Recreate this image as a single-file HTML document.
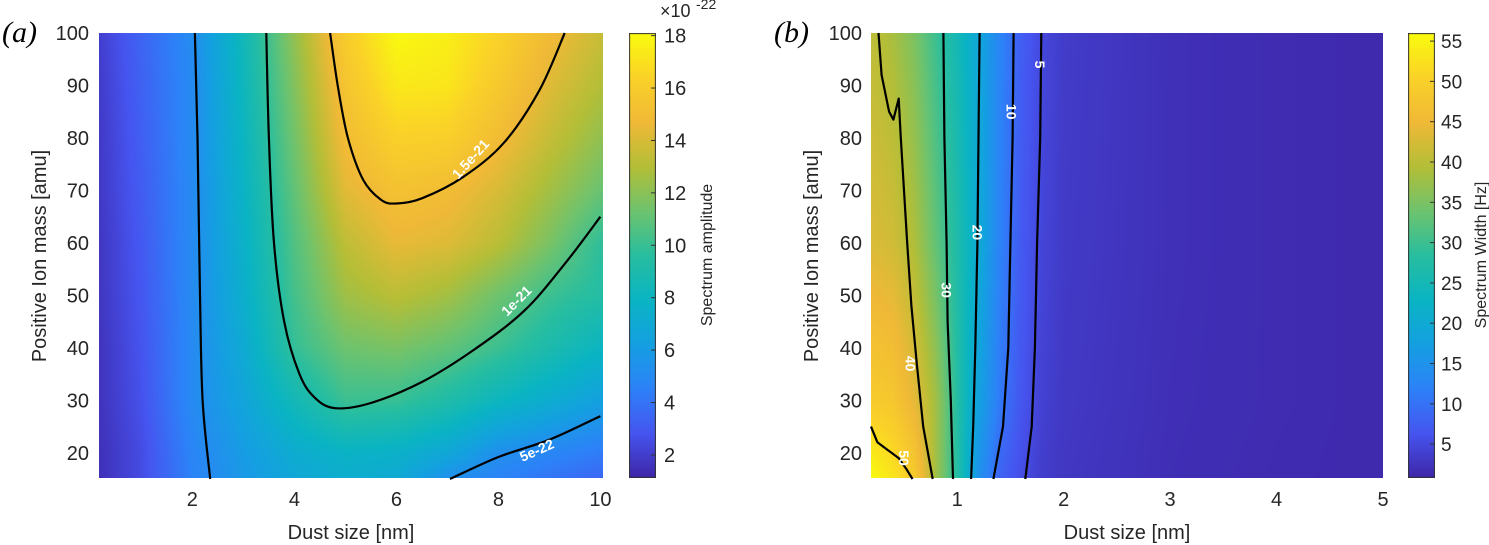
<!DOCTYPE html>
<html><head><meta charset="utf-8">
<style>
body{margin:0;background:#fff;width:1489px;height:545px;overflow:hidden;position:relative;font-family:"Liberation Sans",Arial,sans-serif;}
canvas{position:absolute;}
svg{position:absolute;left:0;top:0;}
</style></head>
<body>
<canvas id="heatA" width="504" height="445" style="left:99px;top:33px"></canvas>
<canvas id="cbarA" width="27" height="445" style="left:629px;top:33px"></canvas>
<canvas id="heatB" width="512" height="445" style="left:871px;top:33px"></canvas>
<canvas id="cbarB" width="27" height="445" style="left:1408px;top:33px"></canvas>
<svg id="ov" width="1489" height="545"></svg>
<script>
// ---------- Panel (a) data ----------
const xsA=[0.17,1,2,3,4,5,6,7,8,9,10];
const ysA=[15,20,30,40,50,60,70,80,90,100];
const zA15=[1.5,2.5,4.6,5.8,6.8,7.3,7.0,5.3,4.6,4.0,3.5];
const zA20=[1.5,2.5,4.7,6.0,7.2,7.8,7.6,6.8,5.3,4.8,4.3];
const zA30=[1.6,2.7,5.0,6.6,8.5,10.1,10.0,9.2,8.1,7.2,6.3];
const zA40=[1.6,2.8,5.0,7.0,9.9,11.3,11.6,11.0,10.1,9.0,8.0];
const zA50=[1.7,2.9,5.0,7.4,10.3,12.5,13.2,12.6,11.3,10.1,9.4];
const zA60=[1.7,3.0,5.0,7.6,10.6,13.3,14.5,14.2,13.2,11.6,9.8];
const zA70=[1.8,3.1,5.0,7.8,11.0,14.3,15.3,15.0,14.0,12.6,11.2];
const zA80=[1.8,3.2,5.0,8.0,11.4,15.0,16.3,16.2,15.0,13.5,12.2];
const zA90=[1.9,3.3,5.0,8.2,11.8,15.5,17.3,17.2,15.8,14.2,13.0];
const zA100=[2.0,3.4,5.1,8.4,12.2,16.0,18.0,17.6,16.4,14.9,13.6];
const xTicksA=[2,4,6,8,10];
const yTicks=[20,30,40,50,60,70,80,90,100];
const cTicksA=[2,4,6,8,10,12,14,16,18];
const contA5L=[[2.05,100],[2.1,80],[2.15,50],[2.2,30],[2.35,15]];
const contA5R=[[7.05,15],[8,19.2],[9,22.5],[10,27]];
const contA10=[[3.45,100],[3.5,80],[3.6,60],[3.8,45],[4.1,35],[4.4,30.5],[4.8,28.5],[5.5,29.5],[6.5,33.5],[7.5,39.5],[8.5,47],[9.3,56],[10,65]];
const contA15=[[4.7,100],[4.85,90],[5.05,80],[5.35,72],[5.7,68.2],[6.0,67.5],[6.5,68.5],[7.3,72.5],[8.1,79],[8.8,89],[9.3,100]];
const labA=[["1.5e-21",7.45,76,-48],["1e-21",8.35,49,-45],["5e-22",8.75,20.5,-24]];
// ---------- Panel (b) data ----------
const xsB=[0.19,0.4,0.6,0.8,1.0,1.2,1.4,1.6,1.8,2,3,4,5];
const ysB=[15,30,60,100];
const zB15=[56,53,49,38,28,15,8,5.5,3.5,2.8,1.8,1.4,1.2];
const zB30=[49,48,44,38,28,18,11,6.5,4,3,1.9,1.5,1.2];
const zB60=[43,42,39,33,27,20,12,7,4.5,3.2,2,1.5,1.2];
const zB100=[40.5,38.5,35,30,25,19,12.5,7.5,4.8,3.4,2,1.5,1.2];
const xTicksB=[1,2,3,4,5];
const cTicksB=[5,10,15,20,25,30,35,40,45,50,55];
const contB50=[[0.19,25],[0.25,22],[0.35,20.5],[0.45,19],[0.52,17],[0.58,15]];
const contB40=[[0.26,100],[0.29,92],[0.36,85],[0.40,83.5],[0.45,87.5],[0.47,80],[0.5,70],[0.53,60],[0.57,48],[0.62,37],[0.68,25],[0.77,15]];
const contB30=[[0.87,100],[0.88,80],[0.9,60],[0.91,45],[0.94,30],[0.96,15]];
const contB20=[[1.21,100],[1.2,80],[1.19,60],[1.17,40],[1.15,25],[1.13,15]];
const contB10=[[1.53,100],[1.52,80],[1.5,60],[1.48,40],[1.43,25],[1.34,15]];
const contB5=[[1.79,100],[1.78,80],[1.75,60],[1.73,40],[1.7,25],[1.64,15]];
const labB=[["5",1.78,94],["10",1.51,85],["20",1.19,62],["30",0.9,51],["40",0.56,37],["50",0.5,19]];

const zA=[zA15,zA20,zA30,zA40,zA50,zA60,zA70,zA80,zA90,zA100];
const zB=[zB15,zB30,zB60,zB100];
const PAR=[[0,62,38,168],[0.1,70,85,240],[0.2,45,130,248],[0.3,20,160,225],[0.4,10,180,195],[0.5,40,190,160],[0.6,110,195,110],[0.7,180,190,55],[0.8,240,185,55],[0.9,250,210,40],[1,249,251,14]];
function cmap(t){t=Math.max(0,Math.min(1,t));for(let i=1;i<PAR.length;i++){if(t<=PAR[i][0]){const a=PAR[i-1],b=PAR[i],f=(t-a[0])/(b[0]-a[0]);return [0,1,2].map(k=>a[k+1]+(b[k+1]-a[k+1])*f);}}return PAR[PAR.length-1].slice(1);}
function idx(arr,v){let i=0;while(i<arr.length-2&&v>arr[i+1])i++;let f=(v-arr[i])/(arr[i+1]-arr[i]);return [i,Math.max(0,Math.min(1,f))];}
function bil(xs,ys,Z,x,y){const [i,fx]=idx(xs,x),[j,fy]=idx(ys,y);const a=Z[j][i]*(1-fx)+Z[j][i+1]*fx,b=Z[j+1][i]*(1-fx)+Z[j+1][i+1]*fx;return a*(1-fy)+b*fy;}
const A={x0:99,x1:603,y0:33,y1:478,xmin:0.17,xmax:10.05,ymin:15.2,ymax:100,cmin:1.12,cmax:18.1};
const B={x0:871,x1:1383,y0:33,y1:478,xmin:0.19,xmax:5,ymin:15.2,ymax:100,cmin:0.8,cmax:56};
function sx(P,x){return P.x0+(x-P.xmin)/(P.xmax-P.xmin)*(P.x1-P.x0);}
function sy(P,y){return P.y1-(y-P.ymin)/(P.ymax-P.ymin)*(P.y1-P.y0);}
function drawHeat(id,P,xs,ys,Z){const c=document.getElementById(id),ctx=c.getContext('2d');const W=c.width,H=c.height,img=ctx.createImageData(W,H);
for(let py=0;py<H;py++){const y=P.ymax-(py+0.5)/H*(P.ymax-P.ymin);for(let px=0;px<W;px++){const x=P.xmin+(px+0.5)/W*(P.xmax-P.xmin);const v=bil(xs,ys,Z,x,y);const col=cmap((v-P.cmin)/(P.cmax-P.cmin));const o=(py*W+px)*4;img.data[o]=col[0];img.data[o+1]=col[1];img.data[o+2]=col[2];img.data[o+3]=255;}}ctx.putImageData(img,0,0);}
function drawBar(id){const c=document.getElementById(id),ctx=c.getContext('2d');for(let py=0;py<c.height;py++){const col=cmap(1-py/(c.height-1));ctx.fillStyle=`rgb(${col.map(Math.round).join(',')})`;ctx.fillRect(0,py,c.width,1);}ctx.strokeStyle='#333';ctx.lineWidth=1;ctx.strokeRect(0.5,0.5,c.width-1,c.height-1);}
drawHeat('heatA',A,xsA,ysA,zA);drawHeat('heatB',B,xsB,ysB,zB);drawBar('cbarA');drawBar('cbarB');
const NS='http://www.w3.org/2000/svg',ov=document.getElementById('ov');
function el(t,at,txt){const e=document.createElementNS(NS,t);for(const k in at)e.setAttribute(k,at[k]);if(txt!==undefined)e.textContent=txt;ov.appendChild(e);return e;}
function txt(s,x,y,size,anchor,extra){const e=el('text',Object.assign({x:x,y:y,'font-size':size,'text-anchor':anchor||'middle',fill:'#262626','font-family':'Liberation Sans, Arial, sans-serif'},extra||{}),s);return e;}
function smoothPath(p){let d='M'+p[0][0].toFixed(1)+','+p[0][1].toFixed(1);for(let i=0;i<p.length-1;i++){const p0=p[Math.max(0,i-1)],p1=p[i],p2=p[i+1],p3=p[Math.min(p.length-1,i+2)];
const c1=[p1[0]+(p2[0]-p0[0])/6,p1[1]+(p2[1]-p0[1])/6],c2=[p2[0]-(p3[0]-p1[0])/6,p2[1]-(p3[1]-p1[1])/6];d+='C'+c1.map(v=>v.toFixed(1)).join(',')+' '+c2.map(v=>v.toFixed(1)).join(',')+' '+p2.map(v=>v.toFixed(1)).join(',');}return d;}
function contour(P,pts,name,smooth){const sp=pts.map(p=>[sx(P,p[0]),sy(P,p[1])]);const d=smooth?smoothPath(sp):sp.map((p,i)=>(i?'L':'M')+p[0].toFixed(1)+','+p[1].toFixed(1)).join('');const e=el('path',{d:d,fill:'none',stroke:'#000','stroke-width':2.2,'stroke-linejoin':'round'});

}
// Panel a
[[contA5L,'contour-5e-22-left'],[contA5R,'contour-5e-22-right'],[contA10,'contour-1e-21'],[contA15,'contour-1.5e-21']].forEach(c=>contour(A,c[0],c[1],true));
labA.forEach(l=>{const x=sx(A,l[1]),y=sy(A,l[2]);const e=txt(l[0],x,y+5,14,'middle',{fill:'#fff','font-weight':'bold',transform:`rotate(${l[3]} ${x} ${y})`});

});
xTicksA.forEach(v=>{const e=txt(String(v),sx(A,v),506,20);

});
yTicks.forEach(v=>{const e=txt(String(v),89,sy(A,v)+7,20,'end');

});
cTicksA.forEach(v=>{const y=A.y1-(v-A.cmin)/(A.cmax-A.cmin)*(A.y1-A.y0);el('line',{x1:651,x2:656,y1:y,y2:y,stroke:'#333'});const e=txt(String(v),664,y+7,20,'start');

});
let t=txt('×10',660,17,18,'start');
txt('-22',696,9,14,'start');
t=txt('Dust size [nm]',351,539,20);
t=txt('Positive Ion mass [amu]',0,0,20,'middle',{transform:'translate(46 256) rotate(-90)'});
t=txt('Spectrum amplitude',0,0,16,'middle',{transform:'translate(712 255) rotate(-90)'});
t=txt('(a)',2,42,30,'start',{'font-family':'Liberation Serif, serif','font-style':'italic',fill:'#000'});
// Panel b
[[contB50,'contour-50'],[contB40,'contour-40'],[contB30,'contour-30'],[contB20,'contour-20'],[contB10,'contour-10'],[contB5,'contour-5']].forEach(c=>contour(B,c[0],c[1],false));
labB.forEach(l=>{const x=sx(B,l[1]),y=sy(B,l[2]);const e=txt(l[0],x,y+5,14,'middle',{fill:'#fff','font-weight':'bold',transform:`rotate(90 ${x} ${y})`});

});
xTicksB.forEach(v=>{const e=txt(String(v),sx(B,v),506,20);

});
yTicks.forEach(v=>{const e=txt(String(v),862,sy(B,v)+7,20,'end');

});
cTicksB.forEach(v=>{const y=B.y1-(v-B.cmin)/(B.cmax-B.cmin)*(B.y1-B.y0);el('line',{x1:1430,x2:1435,y1:y,y2:y,stroke:'#333'});const e=txt(String(v),1441,y+7,19,'start');

});
t=txt('Dust size [nm]',1127,539,20);
t=txt('Positive Ion mass [amu]',0,0,20,'middle',{transform:'translate(818 256) rotate(-90)'});
t=txt('Spectrum Width [Hz]',0,0,16,'middle',{transform:'translate(1486 255) rotate(-90)'});
t=txt('(b)',774,42,30,'start',{'font-family':'Liberation Serif, serif','font-style':'italic',fill:'#000'});
</script>
</body></html>
